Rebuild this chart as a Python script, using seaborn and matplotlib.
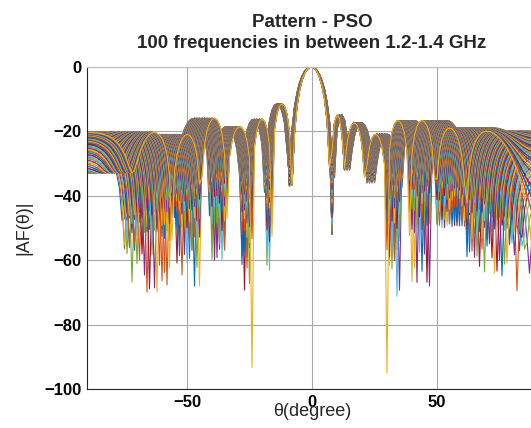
import numpy as np
import pandas as pd
import matplotlib
matplotlib.use('Agg')
import matplotlib.pyplot as plt
import seaborn as sns

# Pattern at 1.4 GHz, in u = sin(theta):
# null positions, how deep each null goes (dB) and the peak of each lobe
# lying between two neighbouring nulls.
null_u = [-1.08, -0.95, -0.83, -0.70, -0.561, -0.40674, -0.276, -0.141,
          0.131, 0.222, 0.362, 0.5, 0.63, 0.76, 0.88, 1.0, 1.12]
null_floor = [-45, -33, -70, -68, -60, -95, -64, -37,
              -52, -32, -36, -95, -68, -50, -72, -66, -60]
lobe_peak = [-20, -20.5, -21, -16, -18.6, -16.3, -11.5, 0,
             -15, -17.5, -21, -16.7, -16.7, -19, -20, -21]
main_lobe_sharpness = 1.6

# 100 frequency steps between 1.2 and 1.4 GHz, angle sampled every degree
f_low, f_high, n_freq = 1.2, 1.4, 101
theta_step = 1.0

# MATLAB default line colour order
line_colors = ['#0072BD', '#D95319', '#EDB120', '#7E2F8E',
               '#77AC30', '#4DBEEE', '#A2142F']

x_ticks = [-50, 0, 50]
y_ticks = [0, -20, -40, -60, -80, -100]


def pattern_db(u):
    nu = np.array(null_u)
    k = np.clip(np.searchsorted(nu, u) - 1, 0, len(lobe_peak) - 1)
    a, b = nu[k], nu[k + 1]
    peak = np.array(lobe_peak)[k]
    s = np.abs(np.sin(np.pi * (u - a) / (b - a))) + 1e-15
    shape = np.where(peak == 0, main_lobe_sharpness, 1.0)
    g = peak + shape * 20 * np.log10(s)
    floor = np.where(u - a < b - u, np.array(null_floor)[k],
                     np.array(null_floor)[k + 1])
    return 10 * np.log10(10 ** (g / 10) + 10 ** (floor / 10))


theta = np.arange(-90, 90 + theta_step / 2, theta_step)
freqs = np.linspace(f_low, f_high, n_freq)

frames = []
for f in freqs:
    u = np.sin(np.deg2rad(theta)) * f / f_high
    frames.append(pd.DataFrame({'theta': theta, 'af': pattern_db(u),
                                'freq': f'{f:.3f}'}))
df = pd.concat(frames, ignore_index=True)
hue_order = [f'{f:.3f}' for f in freqs]
palette = [line_colors[i % len(line_colors)] for i in range(n_freq)]

sns.set_style('white')
plt.rcParams['font.family'] = ['Liberation Sans', 'DejaVu Sans']

fig = plt.figure(figsize=(5.31, 4.28), dpi=100)
ax = fig.add_axes([87 / 531, 38.7 / 428, 450 / 531, 322.6 / 428])

sns.lineplot(data=df, x='theta', y='af', hue='freq', hue_order=hue_order,
             palette=palette, legend=False, linewidth=0.8,
             estimator=None, sort=False, ax=ax)

ax.set_xlim(-90, 90)
ax.set_ylim(-100, 0)
ax.set_xticks(x_ticks)
ax.set_yticks(y_ticks)
ax.set_axisbelow(True)
ax.grid(True, color='#a8a8a8', linewidth=0.8)
ax.tick_params(direction='in', length=3, width=0.8, labelsize=12, pad=4,
               colors='#262626')
for lab in ax.get_xticklabels() + ax.get_yticklabels():
    lab.set_fontweight('bold')
    lab.set_color('black')

for side in ['left', 'bottom']:
    ax.spines[side].set_color('#262626')
    ax.spines[side].set_linewidth(0.8)
ax.spines['top'].set_color('#bdbdbd')
ax.spines['right'].set_color('#262626')

ax.set_xlabel('θ(degree)', fontsize=13, color='#262626')
ax.set_ylabel('|AF(θ)|', fontsize=13, color='#262626')
ax.xaxis.set_label_coords(0.5, -0.042)
ax.yaxis.set_label_coords(-0.122, 0.5)

fig.text(312 / 531, 1 - 27 / 428, 'Pattern - PSO', ha='center', va='baseline',
         fontsize=13.5, fontweight='bold')
fig.text(312 / 531, 1 - 48 / 428, '100 frequencies in between 1.2-1.4 GHz',
         ha='center', va='baseline', fontsize=13.5, fontweight='bold')

fig.savefig('out.png', dpi=100)
